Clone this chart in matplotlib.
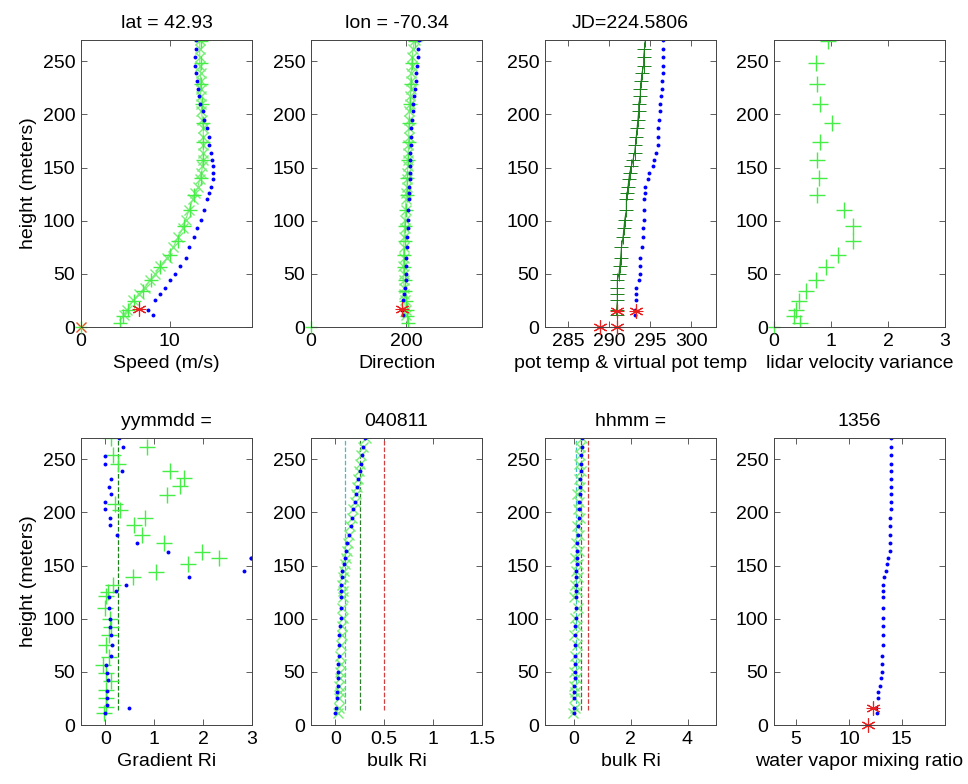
import matplotlib
matplotlib.use("Agg")
import matplotlib.pyplot as plt

plt.rcParams['font.family'] = ['Liberation Sans', 'DejaVu Sans']
plt.rcParams['font.size'] = 14

# profile heights (m) for the tower / model levels and the lidar levels
z = [11, 16, 25, 31, 37, 44, 50, 57, 65, 75, 85, 93, 101, 110, 120, 126, 132, 139,
     145, 151, 157, 164, 171, 179, 187, 195, 203, 210, 217, 224, 231, 239, 246, 254, 262, 270]
z_lidar = [4, 10, 16, 24, 34, 44, 56, 68, 81, 95, 110, 124, 140, 157, 174, 192, 210, 229, 248, 269]

# speed (m/s)
spd_blue = [8.1, 7.6, 8.4, 8.9, 9.5, 10.1, 10.6, 11.2, 11.8, 12.2, 12.7, 13.1, 13.5, 13.9, 14.2, 14.4,
            14.7, 14.9, 14.9, 14.9, 14.8, 14.7, 14.5, 14.4, 14.2, 13.9, 13.8, 13.4, 13.3, 13.2, 13.1,
            13.0, 12.9, 12.9, 13.0, 13.0]
spd_x = [4.9, 5.2, 5.9, 6.5, 7.2, 7.8, 8.4, 8.9, 9.7, 10.4, 11.0, 11.5, 11.8, 12.2, 12.6, 12.9, 13.2,
         13.4, 13.6, 13.7, 13.8, 13.8, 13.8, 13.8, 13.8, 13.7, 13.6, 13.6, 13.5, 13.5, 13.5, 13.5,
         13.4, 13.4, 13.4, 13.4]
spd_lidar = [4.4, 4.7, 5.3, 6.0, 7.0, 7.9, 8.9, 10.0, 10.9, 11.6, 12.3, 12.8, 13.6, 13.8, 13.8, 13.8,
             13.7, 13.6, 13.5, 13.5]
spd_sfc = [6.5]
z_sfc = [17]

# direction (deg)
dir_blue = [193, 192, 194, 196, 198, 200, 200, 201, 201, 203, 203, 205, 205, 205, 206, 207, 207, 208,
            208, 208, 208, 208, 210, 210, 211, 213, 214, 215, 217, 218, 220, 221, 224, 225, 226, 227]
dir_x = [200, 199, 197, 196, 196, 195, 195, 194, 195, 195, 196, 197, 198, 199, 200, 201, 202, 203,
         203, 204, 204, 205, 205, 206, 206, 207, 207, 208, 209, 210, 210, 211, 212, 213, 215, 218]
dir_lidar = [205, 203, 203, 200, 198, 197, 196, 196, 197, 198, 200, 202, 203, 205, 206, 207, 209,
             210, 212, 218]
dir_sfc = [192]

# potential temperature and virtual potential temperature (K)
theta = [290.9, 290.9, 291.0, 291.0, 291.0, 291.0, 291.2, 291.3, 291.4, 291.5, 291.7, 291.8, 291.9,
         292.1, 292.1, 292.2, 292.3, 292.4, 292.5, 292.7, 292.9, 293.1, 293.2, 293.3, 293.4, 293.5,
         293.6, 293.6, 293.8, 293.8, 293.9, 294.0, 294.2, 294.2, 294.3, 294.4]
theta_v = [293.1, 293.2, 293.3, 293.3, 293.3, 293.6, 293.7, 293.7, 293.8, 294.0, 294.1, 294.1, 294.2,
           294.3, 294.3, 294.4, 294.4, 294.7, 294.9, 295.3, 295.5, 295.7, 295.9, 296.0, 296.0, 296.1,
           296.2, 296.2, 296.3, 296.4, 296.4, 296.5, 296.5, 296.5, 296.6, 296.6]
theta_sfc = [288.9, 290.9, 291.0, 293.3]
z_theta_sfc = [0, 0, 15, 15]

# lidar velocity variance
lidar_var = [0.46, 0.35, 0.38, 0.44, 0.57, 0.73, 0.92, 1.13, 1.38, 1.38, 1.22, 0.75, 0.79, 0.76,
             0.81, 1.01, 0.81, 0.76, 0.74, 0.95]

# gradient Richardson number
ri_grad_blue = [0.0, 0.49, 0.03, 0.03, 0.03, 0.06, 0.03, 0.02, 0.12, 0.14, 0.11, 0.10, 0.10, 0.07,
                0.07, 0.21, 0.43, 1.72, 2.83, 2.97, 2.97, 1.28, 0.65, 0.23, 0.10, 0.09, 0.0, 0.0,
                0.12, 0.08, 0.11, 0.34, 0.0, 0.0, 0.36, 0.28]
z_grad = [11, 16, 19, 25, 32, 42, 49, 56, 65, 75, 85, 92, 100, 110, 120, 126, 132, 139, 145, 157,
          157, 163, 171, 179, 188, 195, 203, 210, 217, 224, 231, 239, 246, 253, 262, 270]
ri_grad_green = [-0.03, 0.02, 0.02, 0.02, 0.12, 0.02, -0.05, 0.08, 0.02, 0.08, 0.12, 0.09, -0.01,
                 0.02, 0.06, 0.16, 0.57, 1.04, 1.69, 2.33, 1.98, 1.19, 0.74, 0.59, 0.81, 0.30, 0.19,
                 1.26, 1.53, 1.60, 1.33, 0.26, 0.16, 0.86, 0.12]
z_grad_green = [11, 17, 25, 33, 41, 49, 56, 64, 75, 85, 92, 100, 110, 121, 125, 132, 139, 144, 151,
                157, 163, 171, 179, 188, 195, 202, 208, 216, 225, 232, 239, 246, 254, 262, 270]

# bulk Richardson number, two estimates
ri_bulk_blue = [0.0, 0.01, 0.017, 0.021, 0.024, 0.028, 0.028, 0.031, 0.034, 0.041, 0.041, 0.048,
                0.052, 0.052, 0.062, 0.062, 0.062, 0.069, 0.069, 0.086, 0.103, 0.11, 0.121, 0.138,
                0.155, 0.166, 0.183, 0.20, 0.207, 0.224, 0.234, 0.248, 0.259, 0.269, 0.283, 0.303]
ri_bulk_x = [0.03, 0.04, 0.04, 0.05, 0.04, 0.05, 0.05, 0.06, 0.05, 0.06, 0.07, 0.07, 0.08, 0.07,
             0.08, 0.08, 0.07, 0.08, 0.09, 0.10, 0.11, 0.12, 0.13, 0.14, 0.15, 0.17, 0.18, 0.20,
             0.21, 0.22, 0.23, 0.24, 0.25, 0.26, 0.28, 0.31]
ri_bulk2_blue = [0.0, 0.01, 0.02, 0.02, 0.03, 0.04, 0.04, 0.05, 0.05, 0.06, 0.07, 0.07, 0.08, 0.08,
                 0.09, 0.09, 0.09, 0.10, 0.10, 0.11, 0.12, 0.13, 0.14, 0.16, 0.17, 0.18, 0.19, 0.20,
                 0.22, 0.23, 0.24, 0.26, 0.27, 0.28, 0.30, 0.31]
ri_bulk2_x = [-0.02, 0.04, 0.0, 0.06, 0.02, 0.08, 0.03, 0.1, 0.05, 0.12, 0.02, 0.14, 0.06, 0.15,
              0.0, 0.14, 0.05, 0.16, 0.08, 0.15, 0.06, 0.18, 0.1, 0.2, 0.12, 0.22, 0.16, 0.2, 0.14,
              0.24, 0.18, 0.26, 0.2, 0.24, 0.22, 0.31]
ri_crit = [0.1, 0.25, 0.5]
crit_colors = ['#40c0c0', '#308030', '#d04040']
z_crit = [14, 270]

# water vapor mixing ratio (g/kg)
q_blue = [12.7, 12.6, 12.8, 12.8, 12.9, 13.0, 13.1, 13.1, 13.1, 13.25, 13.25, 13.25, 13.25, 13.25,
          13.25, 13.25, 13.25, 13.35, 13.5, 13.6, 13.7, 13.9, 13.9, 13.9, 13.9, 13.9, 13.95, 13.95,
          13.95, 13.95, 13.95, 13.95, 14.0, 14.0, 14.0, 14.0]
q_sfc = [12.24, 11.83]
z_q_sfc = [16, 0]

BLUE = '#0000ff'
LGREEN = '#44ee44'
XGREEN = '#77ee77'
DGREEN = '#1a801a'
RED = '#e82020'
AST = (6, 2, 0)

fig = plt.figure(figsize=(9.68, 7.84), dpi=100)
lefts = [81, 311, 545, 774]
w, h = 171 / 968, 287 / 784
bot_top, bot_bot = 1 - 327 / 784, 1 - 725 / 784
axs = []
for row, b in enumerate([bot_top, bot_bot]):
    for col in range(4):
        ax = fig.add_axes([lefts[col] / 968, b, w, h])
        ax.set_ylim(0, 270)
        ax.set_yticks([0, 50, 100, 150, 200, 250])
        ax.tick_params(direction='in', top=True, right=True, length=4, width=0.6,
                       labelsize=14, pad=4, color='#444444')
        for s in ax.spines.values():
            s.set_linewidth(0.7)
            s.set_color('#444444')
        axs.append(ax)

def blue(ax, x, y):
    ax.plot(x, y, 'o', color=BLUE, ms=2.8, mew=0)

def star(ax, x, y):
    ax.plot(x, y, marker=AST, color=RED, ms=10, mew=0.8, ls='none', clip_on=False)
    ax.plot(x, y, marker='+', color=RED, ms=10, mew=0.8, ls='none', clip_on=False)

# speed
ax = axs[0]
ax.plot(spd_x, z, '-x', color=XGREEN, ms=7, mew=1, lw=0.8)
ax.plot(spd_lidar, z_lidar, '+', color=LGREEN, ms=10, mew=1)
blue(ax, spd_blue, z)
star(ax, spd_sfc, z_sfc)
ax.plot([0], [0], 'x', color='#e05020', ms=7, mew=1, clip_on=False)
ax.plot([0], [0], '+', color=LGREEN, ms=8, mew=1, clip_on=False)
ax.set_xlim(0, 19.3)
ax.set_xticks([0, 10])
ax.set_xlabel('Speed (m/s)')
ax.set_ylabel('height (meters)')
ax.set_title('lat = 42.93', fontsize=14, pad=9)

# direction
ax = axs[1]
ax.plot(dir_x, z, '-x', color=XGREEN, ms=7, mew=1, lw=0.8)
ax.plot(dir_lidar, z_lidar, '+', color=LGREEN, ms=10, mew=1)
blue(ax, dir_blue, z)
star(ax, dir_sfc, z_sfc)
ax.plot([0], [0], '+', color=LGREEN, ms=8, mew=1, clip_on=False)
ax.set_xlim(0, 360)
ax.set_xticks([0, 200])
ax.set_xlabel('Direction')
ax.set_title('lon = -70.34', fontsize=14, pad=9)

# potential temperature
ax = axs[2]
ax.plot(theta, z, '-+', color=DGREEN, ms=10, mew=0.7, lw=0.8)
blue(ax, theta_v, z)
star(ax, theta_sfc, z_theta_sfc)
ax.set_xlim(282.2, 303)
ax.set_xticks([285, 290, 295, 300])
ax.set_xlabel('pot temp & virtual pot temp')
ax.set_title('JD=224.5806', fontsize=14, pad=9)

# lidar variance
ax = axs[3]
ax.plot(lidar_var, z_lidar, '+', color=LGREEN, ms=11, mew=1)
ax.plot([0], [0], '+', color=LGREEN, ms=8, mew=1, clip_on=False)
ax.set_xlim(0, 3)
ax.set_xticks([0, 1, 2, 3])
ax.set_xlabel('lidar velocity variance')

# gradient Ri
ax = axs[4]
ax.plot([0.25, 0.25], z_crit, '--', color=DGREEN, lw=0.9)
ax.plot(ri_grad_green, z_grad_green, '+', color=LGREEN, ms=11, mew=1)
blue(ax, ri_grad_blue, z_grad)
ax.set_xlim(-0.5, 3)
ax.set_xticks([0, 1, 2, 3])
ax.set_xlabel('Gradient Ri')
ax.set_ylabel('height (meters)')
ax.set_title('yymmdd =', fontsize=14, pad=9)

# bulk Ri
for ax, bx, xx, lim, ticks, ttl in [
        (axs[5], ri_bulk_blue, ri_bulk_x, (-0.25, 1.5), [0, 0.5, 1, 1.5], '040811'),
        (axs[6], ri_bulk2_blue, ri_bulk2_x, (-1, 5), [0, 2, 4], 'hhmm =')]:
    for v, c in zip(ri_crit, crit_colors):
        ax.plot([v, v], z_crit, '--', color=c, lw=0.9)
    ax.plot(xx, z, 'x', color=XGREEN, ms=7, mew=1)
    blue(ax, bx, z)
    ax.set_xlim(*lim)
    ax.set_xticks(ticks)
    ax.set_xticklabels([('%g' % t) for t in ticks])
    ax.set_xlabel('bulk Ri')
    ax.set_title(ttl, fontsize=14, pad=9)

# mixing ratio
ax = axs[7]
blue(ax, q_blue, z)
star(ax, q_sfc, z_q_sfc)
ax.set_xlim(2.9, 19.1)
ax.set_xticks([5, 10, 15])
ax.set_xlabel('water vapor mixing ratio')
ax.set_title('1356', fontsize=14, pad=9)

fig.savefig('out.png', dpi=100)
